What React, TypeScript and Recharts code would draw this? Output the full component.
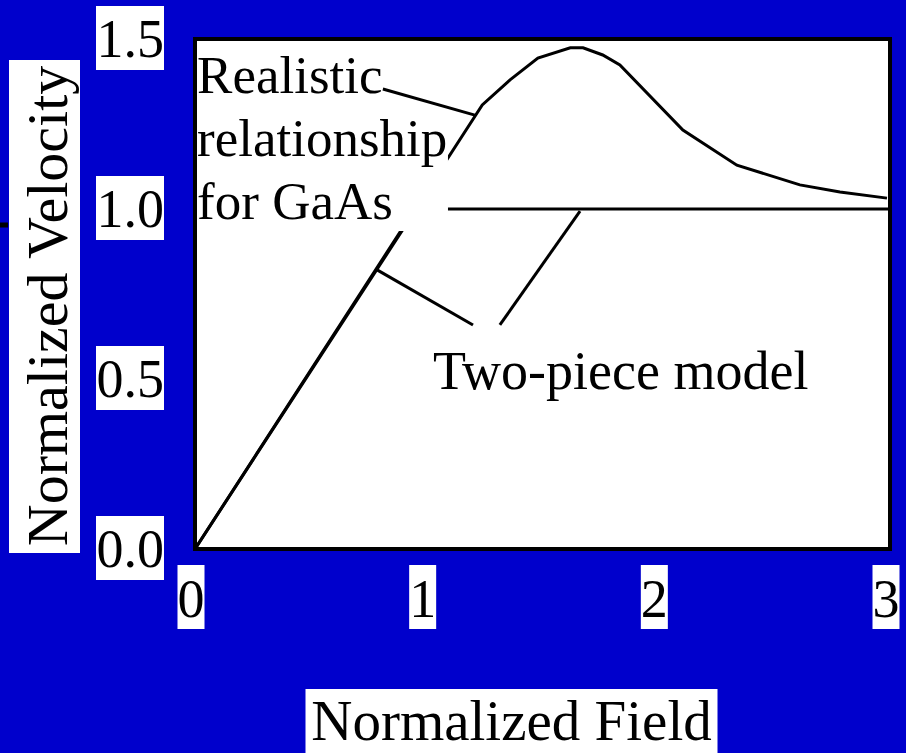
import {
  LineChart, Line, XAxis, YAxis, ReferenceArea, ReferenceLine, ReferenceDot,
} from 'recharts';

const SERIF = "'Liberation Serif', 'Times New Roman', Times, serif";
const BLUE = '#0000cc';

// realistic GaAs velocity-field curve (normalized)
const realisticField = [0, 1.24, 1.36, 1.48, 1.62, 1.675, 1.76, 1.834, 2.106, 2.339, 2.611, 2.784, 2.987];
const realisticVelocity = [0, 1.306, 1.38, 1.444, 1.474, 1.474, 1.453, 1.424, 1.232, 1.129, 1.071, 1.05, 1.032];

// two-piece model
const twoPieceField = [0, 0.955, 3];
const twoPieceVelocity = [0, 1.0, 1.0];

const xTicks = [0, 1, 2, 3];
const yTicks = [0, 0.5, 1.0, 1.5];

// annotation leader lines, in data units
const leaderFrom = [[0.811, 1.353], [1.2, 0.659], [1.316, 0.659]];
const leaderTo = [[1.208, 1.276], [0.786, 0.821], [1.662, 0.994]];

const realisticLines = ['Realistic', 'relationship', 'for GaAs'];
const twoPieceLabel = 'Two-piece model';

const realistic = realisticField.map((x, i) => ({ x, y: realisticVelocity[i] }));
const twoPiece = twoPieceField.map((x, i) => ({ x, y: twoPieceVelocity[i] }));

// eslint-disable-next-line @typescript-eslint/no-explicit-any
function YTick({ x, y, payload }: any) {
  return (
    <g>
      <rect x={x - 68} y={y - 33} width={68} height={64} fill="#fff" />
      <text x={x} y={y} textAnchor="end" dominantBaseline="central"
        fontSize={54} fontFamily={SERIF} fill="#000">
        {Number(payload.value).toFixed(1)}
      </text>
    </g>
  );
}

// eslint-disable-next-line @typescript-eslint/no-explicit-any
function XTick({ x, y, payload }: any) {
  const cx = x - 4;
  return (
    <g>
      <rect x={cx - 13.5} y={y + 16} width={27} height={64} fill="#fff" />
      <text x={cx} y={y + 50} textAnchor="middle" dominantBaseline="central"
        fontSize={54} fontFamily={SERIF} fill="#000">
        {payload.value}
      </text>
    </g>
  );
}

// eslint-disable-next-line @typescript-eslint/no-explicit-any
function YTitle(props: any) {
  const vb = props.viewBox || { x: 0, y: 39, width: 195, height: 510 };
  const cx = vb.x + 47;
  const cy = vb.y + vb.height / 2 + 12;
  return (
    <g>
      <line x1={0} x2={8} y1={225} y2={225} stroke="#000" strokeWidth={5} />
      <rect x={cx - 38} y={cy - 246} width={71} height={493} fill="#fff" />
      <text x={cx} y={cy} transform={`rotate(-90 ${cx} ${cy})`} textAnchor="middle"
        dominantBaseline="central" fontSize={58} fontFamily={SERIF} fill="#000">
        Normalized Velocity
      </text>
    </g>
  );
}

// eslint-disable-next-line @typescript-eslint/no-explicit-any
function XTitle(props: any) {
  const vb = props.viewBox || { x: 195, y: 549, width: 695, height: 204 };
  const cx = vb.x + vb.width / 2 - 31;
  const cy = vb.y + 174;
  return (
    <g>
      <rect x={cx - 206} y={cy - 34} width={412} height={70} fill="#fff" />
      <text x={cx} y={cy - 3} textAnchor="middle" dominantBaseline="central"
        fontSize={57} fontFamily={SERIF} fill="#000">
        Normalized Field
      </text>
    </g>
  );
}

// eslint-disable-next-line @typescript-eslint/no-explicit-any
function RealisticText({ cx, cy }: any) {
  return (
    <text x={cx} y={cy} fontSize={53} fontFamily={SERIF} fill="#000">
      {realisticLines.map((t, i) => (
        <tspan key={t} x={cx} dy={i === 0 ? 0 : 63}>{t}</tspan>
      ))}
    </text>
  );
}

// eslint-disable-next-line @typescript-eslint/no-explicit-any
function TwoPieceText({ cx, cy }: any) {
  return (
    <text x={cx} y={cy} fontSize={54} fontFamily={SERIF} fill="#000">
      {twoPieceLabel}
    </text>
  );
}

export default function App() {
  return (
    <div style={{ position: 'absolute', left: 0, top: 0, width: 906, height: 753, background: BLUE }}>
      <LineChart width={906} height={753} margin={{ top: 39, right: 16, bottom: 0, left: 0 }}>
        <XAxis
          type="number" dataKey="x" domain={[0, 3]} ticks={xTicks} interval={0}
          allowDataOverflow axisLine={false} tickLine={false} tickSize={0} tickMargin={0}
          height={204} tick={<XTick />} label={(p: unknown) => <XTitle {...(p as object)} />}
        />
        <YAxis
          type="number" dataKey="y" domain={[0, 1.5]} ticks={yTicks} interval={0}
          allowDataOverflow axisLine={false} tickLine={false} tickSize={0} tickMargin={31}
          width={195} tick={<YTick />} label={(p: unknown) => <YTitle {...(p as object)} />}
        />
        <ReferenceArea x1={0} x2={3} y1={0} y2={1.5} fill="#fff" fillOpacity={1} stroke="none" zIndex={-200} />
        <Line data={realistic} dataKey="y" type="linear" stroke="#000" strokeWidth={3}
          dot={false} isAnimationActive={false} />
        <Line data={twoPiece} dataKey="y" type="linear" stroke="#000" strokeWidth={3}
          dot={false} isAnimationActive={false} />
        {/* white background of the text block hides the curves underneath */}
        <ReferenceArea x1={0} x2={1.092} y1={0.935} y2={1.5} fill="#fff" fillOpacity={1} stroke="none" zIndex={450} />
        {leaderFrom.map((f, i) => (
          <ReferenceLine key={i} segment={[{ x: f[0], y: f[1] }, { x: leaderTo[i][0], y: leaderTo[i][1] }]}
            stroke="#000" strokeWidth={3} zIndex={460} />
        ))}
        <ReferenceDot x={0.009} y={1.341} r={0} shape={(p: unknown) => <RealisticText {...(p as object)} />} zIndex={470} />
        <ReferenceDot x={1.027} y={0.47} r={0} shape={(p: unknown) => <TwoPieceText {...(p as object)} />} zIndex={470} />
        <ReferenceArea x1={0} x2={3} y1={0} y2={1.5} fill="none" stroke="#000" strokeWidth={4} zIndex={700} />
      </LineChart>
    </div>
  );
}
